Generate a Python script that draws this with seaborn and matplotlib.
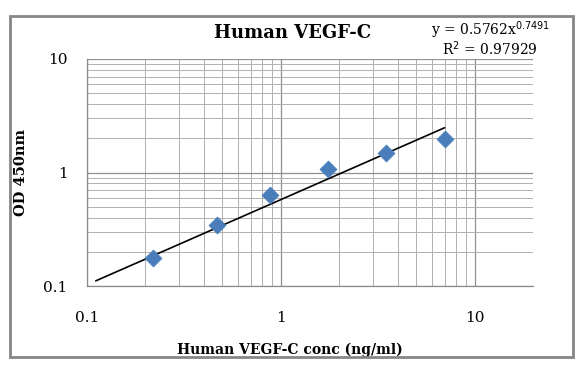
import numpy as np
import pandas as pd
import matplotlib
matplotlib.use("Agg")
import matplotlib.pyplot as plt
import matplotlib.ticker as mticker
from matplotlib.patches import Rectangle
import seaborn as sns

# standard curve points
conc = [0.22, 0.47, 0.875, 1.75, 3.5, 7.0]
od = [0.177, 0.347, 0.634, 1.07, 1.476, 1.97]

# power trendline end points (y = 0.5762x^0.7491)
trend_x = [0.111, 7.0]
trend_y = [0.111, 2.48]

tick_vals = [0.1, 1, 10]
tick_labels = ["0.1", "1", "10"]

sns.set_style("white")
plt.rcParams["font.family"] = ["DejaVu Serif"]
plt.rcParams["text.color"] = "black"

df = pd.DataFrame({"conc": conc, "od": od})
df_trend = pd.DataFrame({"x": trend_x, "y": trend_y})

fig = plt.figure(figsize=(5.85, 3.67), dpi=100)
ax = fig.add_axes([87 / 585, 1 - 286 / 367, (533 - 87) / 585, (286 - 59) / 367])

ax.set_xscale("log")
ax.set_yscale("log")
ax.set_xlim(0.1, 20)
ax.set_ylim(0.1, 10)

ax.xaxis.set_minor_locator(mticker.LogLocator(base=10, subs=np.arange(2, 10)))
ax.yaxis.set_minor_locator(mticker.LogLocator(base=10, subs=np.arange(2, 10)))
ax.xaxis.set_minor_formatter(mticker.NullFormatter())
ax.yaxis.set_minor_formatter(mticker.NullFormatter())
ax.set_xticks(tick_vals)
ax.set_xticklabels(tick_labels)
ax.set_yticks(tick_vals)
ax.set_yticklabels(tick_labels)

ax.grid(which="major", color="#909090", linewidth=0.9)
ax.grid(which="minor", color="#b0b0b0", linewidth=0.7)
ax.set_axisbelow(True)

for side in ["top", "right"]:
    ax.spines[side].set_visible(False)
for side in ["left", "bottom"]:
    ax.spines[side].set_color("#8a8a8a")
    ax.spines[side].set_linewidth(0.9)

ax.tick_params(which="major", direction="out", length=4, width=0.9, color="#8a8a8a",
               labelsize=11, labelcolor="black")
ax.tick_params(which="minor", length=0)
ax.tick_params(axis="x", pad=14)
ax.tick_params(axis="y", pad=10)

sns.lineplot(data=df_trend, x="x", y="y", color="black", linewidth=1.2, ax=ax)
sns.scatterplot(data=df, x="conc", y="od", marker="D", s=75, color="#4a7ebb",
                edgecolor="#4a7ebb", linewidth=0.5, ax=ax, zorder=5)

ax.set_xlabel("Human VEGF-C conc (ng/ml)", fontsize=10, fontweight="bold", color="black")
ax.set_ylabel("OD 450nm", fontsize=10.5, fontweight="bold", color="black")
ax.xaxis.set_label_coords((290 - 87) / 446, (286 - 343) / 227)
ax.yaxis.set_label_coords((28 - 87) / 446, 0.5)

fig.text(293 / 585, 1 - 33 / 367, "Human VEGF-C", ha="center", va="center",
         fontsize=13, fontweight="bold", color="black")
fig.text(490 / 585, 1 - 30 / 367, r"y = 0.5762x$^{0.7491}$", ha="center", va="center",
         fontsize=10, color="black")
fig.text(490 / 585, 1 - 49 / 367, r"R$^{2}$ = 0.97929", ha="center", va="center",
         fontsize=10, color="black")

fig.patches.append(Rectangle((10 / 585, 1 - 357 / 367), 563 / 585, 341 / 367,
                             transform=fig.transFigure, fill=False,
                             edgecolor="#868686", linewidth=2))

fig.savefig("out.png", dpi=100)
